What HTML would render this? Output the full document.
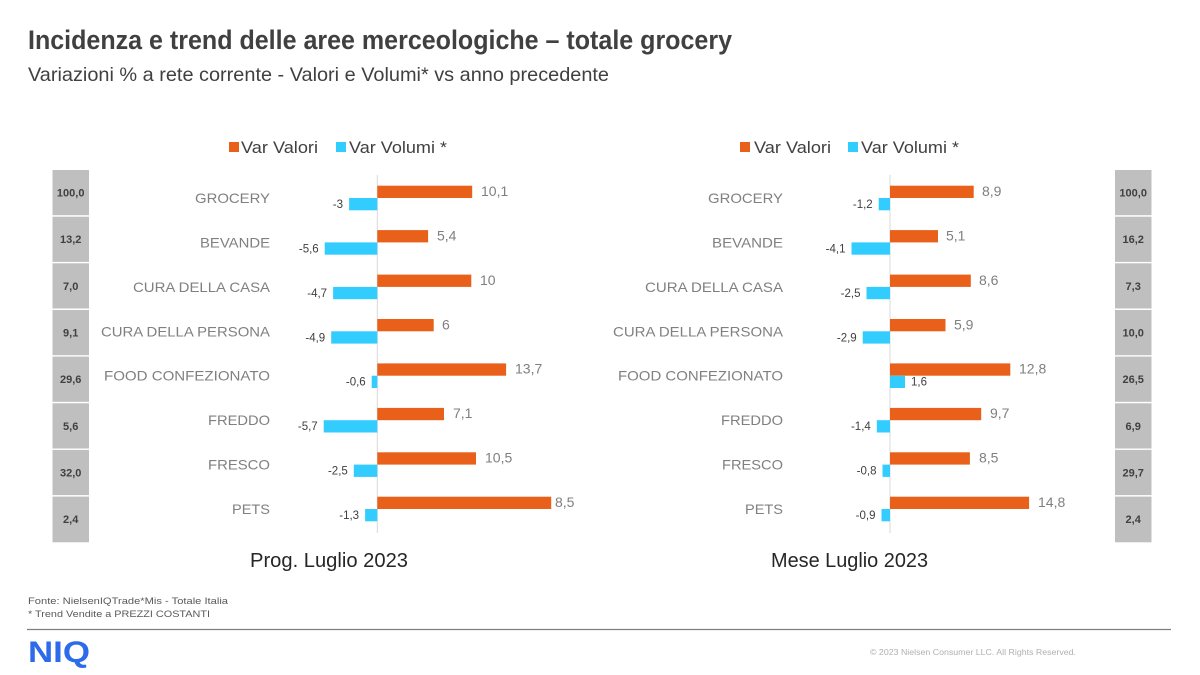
<!DOCTYPE html>
<html>
<head>
<meta charset="utf-8">
<style>
  html, body { margin:0; padding:0; background:#ffffff; }
  svg { display:block; }
  text { font-family: "Liberation Sans", Arial, sans-serif; }
</style>
</head>
<body>
<svg width="1200" height="675" viewBox="0 0 1200 675" xmlns="http://www.w3.org/2000/svg">
  <rect x="0" y="0" width="1200" height="675" fill="#ffffff"/>

  <!-- Title -->
  <text x="28" y="49" font-size="27" font-weight="bold" fill="#404040" textLength="704" lengthAdjust="spacingAndGlyphs">Incidenza e trend delle aree merceologiche – totale grocery</text>
  <text x="28" y="81" font-size="19.5" fill="#404040" textLength="581" lengthAdjust="spacingAndGlyphs">Variazioni  % a rete corrente - Valori  e Volumi*  vs anno precedente</text>

  <!-- Legends -->
  <rect x="229" y="142" width="10" height="10" fill="#E9601A"/>
  <text x="241" y="153" font-size="17" fill="#404040" textLength="77" lengthAdjust="spacingAndGlyphs">Var Valori</text>
  <rect x="336" y="142" width="10" height="10" fill="#33CCFF"/>
  <text x="349" y="153" font-size="17" fill="#404040" textLength="98" lengthAdjust="spacingAndGlyphs">Var Volumi *</text>

  <rect x="740" y="142" width="10" height="10" fill="#E9601A"/>
  <text x="754" y="153" font-size="17" fill="#404040" textLength="77" lengthAdjust="spacingAndGlyphs">Var Valori</text>
  <rect x="848" y="142" width="10" height="10" fill="#33CCFF"/>
  <text x="861" y="153" font-size="17" fill="#404040" textLength="98" lengthAdjust="spacingAndGlyphs">Var Volumi *</text>

  <!-- Gray boxes left -->
  <g fill="#BFBFBF">
    <rect x="52.5" y="170" width="36.5" height="45.2"/>
    <rect x="52.5" y="216.7" width="36.5" height="45.2"/>
    <rect x="52.5" y="263.3" width="36.5" height="45.2"/>
    <rect x="52.5" y="310" width="36.5" height="45.2"/>
    <rect x="52.5" y="356.6" width="36.5" height="45.2"/>
    <rect x="52.5" y="403.3" width="36.5" height="45.2"/>
    <rect x="52.5" y="449.9" width="36.5" height="45.2"/>
    <rect x="52.5" y="496.6" width="36.5" height="45.7"/>
  </g>
  <g font-size="11" font-weight="bold" fill="#404040" text-anchor="middle">
    <text x="70.7" y="196.5">100,0</text>
    <text x="70.7" y="243.2">13,2</text>
    <text x="70.7" y="289.8">7,0</text>
    <text x="70.7" y="336.5">9,1</text>
    <text x="70.7" y="383.1">29,6</text>
    <text x="70.7" y="429.8">5,6</text>
    <text x="70.7" y="476.4">32,0</text>
    <text x="70.7" y="523.2">2,4</text>
  </g>

  <!-- Gray boxes right -->
  <g fill="#BFBFBF">
    <rect x="1115" y="170" width="36.5" height="45.2"/>
    <rect x="1115" y="216.7" width="36.5" height="45.2"/>
    <rect x="1115" y="263.3" width="36.5" height="45.2"/>
    <rect x="1115" y="310" width="36.5" height="45.2"/>
    <rect x="1115" y="356.6" width="36.5" height="45.2"/>
    <rect x="1115" y="403.3" width="36.5" height="45.2"/>
    <rect x="1115" y="449.9" width="36.5" height="45.2"/>
    <rect x="1115" y="496.6" width="36.5" height="45.7"/>
  </g>
  <g font-size="11" font-weight="bold" fill="#404040" text-anchor="middle">
    <text x="1133.2" y="196.5">100,0</text>
    <text x="1133.2" y="243.2">16,2</text>
    <text x="1133.2" y="289.8">7,3</text>
    <text x="1133.2" y="336.5">10,0</text>
    <text x="1133.2" y="383.1">26,5</text>
    <text x="1133.2" y="429.8">6,9</text>
    <text x="1133.2" y="476.4">29,7</text>
    <text x="1133.2" y="523.2">2,4</text>
  </g>

  <!-- Category labels left -->
  <g font-size="14" fill="#808080" text-anchor="end">
    <text x="270" y="203" textLength="75" lengthAdjust="spacingAndGlyphs">GROCERY</text>
    <text x="270" y="247.4" textLength="70" lengthAdjust="spacingAndGlyphs">BEVANDE</text>
    <text x="270" y="291.9" textLength="137" lengthAdjust="spacingAndGlyphs">CURA DELLA CASA</text>
    <text x="270" y="336.3" textLength="169" lengthAdjust="spacingAndGlyphs">CURA DELLA PERSONA</text>
    <text x="270" y="380.7" textLength="166" lengthAdjust="spacingAndGlyphs">FOOD CONFEZIONATO</text>
    <text x="270" y="425.2" textLength="62" lengthAdjust="spacingAndGlyphs">FREDDO</text>
    <text x="270" y="469.6" textLength="62" lengthAdjust="spacingAndGlyphs">FRESCO</text>
    <text x="270" y="514" textLength="38" lengthAdjust="spacingAndGlyphs">PETS</text>
  </g>

  <!-- Category labels right -->
  <g font-size="14" fill="#808080" text-anchor="end">
    <text x="783" y="203" textLength="75" lengthAdjust="spacingAndGlyphs">GROCERY</text>
    <text x="783" y="247.4" textLength="71" lengthAdjust="spacingAndGlyphs">BEVANDE</text>
    <text x="783" y="291.9" textLength="138" lengthAdjust="spacingAndGlyphs">CURA DELLA CASA</text>
    <text x="783" y="336.3" textLength="170" lengthAdjust="spacingAndGlyphs">CURA DELLA PERSONA</text>
    <text x="783" y="380.7" textLength="165" lengthAdjust="spacingAndGlyphs">FOOD CONFEZIONATO</text>
    <text x="783" y="425.2" textLength="62" lengthAdjust="spacingAndGlyphs">FREDDO</text>
    <text x="783" y="469.6" textLength="61" lengthAdjust="spacingAndGlyphs">FRESCO</text>
    <text x="783" y="514" textLength="38" lengthAdjust="spacingAndGlyphs">PETS</text>
  </g>

  <!-- Axis lines -->
  <line x1="377.3" y1="175" x2="377.3" y2="533" stroke="#D9D9D9" stroke-width="1"/>
  <line x1="890" y1="175" x2="890" y2="533" stroke="#D9D9D9" stroke-width="1"/>

  <!-- Left chart bars -->
  <g fill="#E9601A">
    <rect x="377.3" y="185.7" width="94.9" height="12.3"/>
    <rect x="377.3" y="230.1" width="50.8" height="12.3"/>
    <rect x="377.3" y="274.6" width="94" height="12.3"/>
    <rect x="377.3" y="319" width="56.4" height="12.3"/>
    <rect x="377.3" y="363.4" width="128.8" height="12.3"/>
    <rect x="377.3" y="407.9" width="66.7" height="12.3"/>
    <rect x="377.3" y="452.3" width="98.7" height="12.3"/>
    <rect x="377.3" y="496.7" width="173.9" height="12.3"/>
  </g>
  <g fill="#33CCFF">
    <rect x="349.1" y="198" width="28.2" height="12.3"/>
    <rect x="324.7" y="242.4" width="52.6" height="12.3"/>
    <rect x="333.1" y="286.9" width="44.2" height="12.3"/>
    <rect x="331.2" y="331.3" width="46.1" height="12.3"/>
    <rect x="371.7" y="375.7" width="5.6" height="12.3"/>
    <rect x="323.7" y="420.2" width="53.6" height="12.3"/>
    <rect x="353.8" y="464.6" width="23.5" height="12.3"/>
    <rect x="365.1" y="509" width="12.2" height="12.3"/>
  </g>
  <g font-size="14" fill="#7F7F7F">
    <text x="481" y="196">10,1</text>
    <text x="437" y="240.4">5,4</text>
    <text x="480" y="284.9">10</text>
    <text x="442" y="329.3">6</text>
    <text x="515" y="373.7">13,7</text>
    <text x="453" y="418.2">7,1</text>
    <text x="485" y="462.6">10,5</text>
    <text x="555" y="507">8,5</text>
  </g>
  <g font-size="11.5" fill="#404040" text-anchor="end">
    <text x="343" y="208">-3</text>
    <text x="318.7" y="252.4">-5,6</text>
    <text x="327.1" y="296.9">-4,7</text>
    <text x="325.2" y="341.3">-4,9</text>
    <text x="365.7" y="385.7">-0,6</text>
    <text x="317.7" y="430.2">-5,7</text>
    <text x="347.8" y="474.6">-2,5</text>
    <text x="359.1" y="519">-1,3</text>
  </g>

  <!-- Right chart bars -->
  <g fill="#E9601A">
    <rect x="890" y="185.7" width="83.7" height="12.3"/>
    <rect x="890" y="230.1" width="48" height="12.3"/>
    <rect x="890" y="274.6" width="80.8" height="12.3"/>
    <rect x="890" y="319" width="55.5" height="12.3"/>
    <rect x="890" y="363.4" width="120.3" height="12.3"/>
    <rect x="890" y="407.9" width="91.2" height="12.3"/>
    <rect x="890" y="452.3" width="79.9" height="12.3"/>
    <rect x="890" y="496.7" width="139.1" height="12.3"/>
  </g>
  <g fill="#33CCFF">
    <rect x="878.7" y="198" width="11.3" height="12.3"/>
    <rect x="851.5" y="242.4" width="38.5" height="12.3"/>
    <rect x="866.5" y="286.9" width="23.5" height="12.3"/>
    <rect x="862.7" y="331.3" width="27.3" height="12.3"/>
    <rect x="890" y="375.7" width="15" height="12.3"/>
    <rect x="876.8" y="420.2" width="13.2" height="12.3"/>
    <rect x="882.5" y="464.6" width="7.5" height="12.3"/>
    <rect x="881.5" y="509" width="8.5" height="12.3"/>
  </g>
  <g font-size="14" fill="#7F7F7F">
    <text x="982" y="196">8,9</text>
    <text x="946" y="240.4">5,1</text>
    <text x="979" y="284.9">8,6</text>
    <text x="954" y="329.3">5,9</text>
    <text x="1019" y="373.7">12,8</text>
    <text x="990" y="418.2">9,7</text>
    <text x="979" y="462.6">8,5</text>
    <text x="1038" y="507">14,8</text>
  </g>
  <g font-size="11.5" fill="#404040" text-anchor="end">
    <text x="872.7" y="208">-1,2</text>
    <text x="845.5" y="252.4">-4,1</text>
    <text x="860.5" y="296.9">-2,5</text>
    <text x="856.7" y="341.3">-2,9</text>
    <text x="870.8" y="430.2">-1,4</text>
    <text x="876.5" y="474.6">-0,8</text>
    <text x="875.5" y="519">-0,9</text>
  </g>
  <text x="911" y="385.7" font-size="11.5" fill="#404040">1,6</text>

  <!-- Chart sub-titles -->
  <text x="329" y="567" font-size="20" fill="#262626" text-anchor="middle" textLength="158" lengthAdjust="spacingAndGlyphs">Prog. Luglio 2023</text>
  <text x="849.5" y="567" font-size="20" fill="#262626" text-anchor="middle" textLength="157" lengthAdjust="spacingAndGlyphs">Mese Luglio 2023</text>

  <!-- Footer -->
  <text x="28" y="604" font-size="9.5" fill="#595959" textLength="200" lengthAdjust="spacingAndGlyphs">Fonte: NielsenIQTrade*Mis  - Totale Italia</text>
  <text x="28" y="617" font-size="9.5" fill="#595959" textLength="182" lengthAdjust="spacingAndGlyphs">* Trend Vendite a PREZZI COSTANTI</text>
  <line x1="27" y1="629.5" x2="1171" y2="629.5" stroke="#7F7F7F" stroke-width="1.2"/>
  <text x="28" y="662" font-size="30" font-weight="bold" fill="#2D6BEA" textLength="62" lengthAdjust="spacingAndGlyphs">NIQ</text>
  <text x="870" y="655" font-size="8.5" fill="#B0B0B0" textLength="206" lengthAdjust="spacingAndGlyphs">© 2023  Nielsen Consumer LLC. All Rights Reserved.</text>
</svg>
</body>
</html>
